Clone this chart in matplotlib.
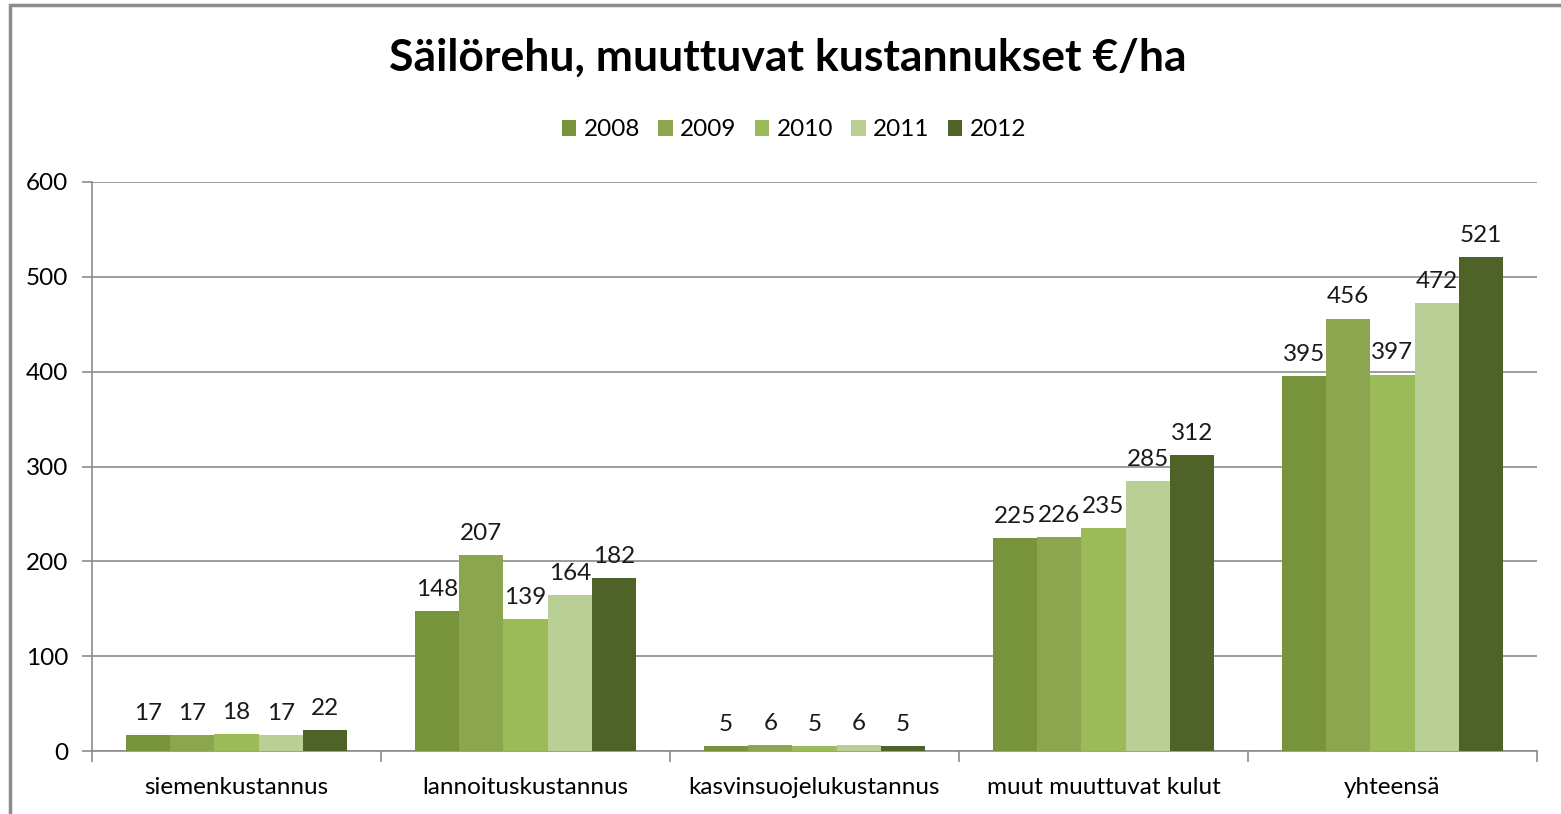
import numpy as np
import matplotlib as mpl
import matplotlib.pyplot as plt
from matplotlib.patches import Rectangle

mpl.rcParams['font.family'] = ['Lato', 'DejaVu Sans']

categories = ['siemenkustannus', 'lannoituskustannus', 'kasvinsuojelukustannus',
              'muut muuttuvat kulut', 'yhteensä']
years = ['2008', '2009', '2010', '2011', '2012']
v2008 = [17, 148, 5, 225, 395]
v2009 = [17, 207, 6, 226, 456]
v2010 = [18, 139, 5, 235, 397]
v2011 = [17, 164, 6, 285, 472]
v2012 = [22, 182, 5, 312, 521]
series = [v2008, v2009, v2010, v2011, v2012]
colors = ['#77933C', '#8BA64E', '#9BBB59', '#BACF96', '#4F6228']

fs = 17.5

fig = plt.figure(figsize=(15.61, 8.14), dpi=100)
fig.patches.append(Rectangle((10 / 1561, -0.01), 1.1, 1 - 5 / 814 + 0.01,
                             transform=fig.transFigure, fill=False,
                             edgecolor='#8c8c8c', linewidth=2.5))

ax = fig.add_axes([92 / 1561, 1 - 751 / 814, (1537 - 92) / 1561, (751 - 182) / 814])

x = np.arange(len(categories))
w = 0.153
for i, (vals, c, yr) in enumerate(zip(series, colors, years)):
    pos = x + (i - 2) * w
    ax.bar(pos, vals, width=w, color=c, label=yr, zorder=3)
    for p, v in zip(pos, vals):
        ax.annotate(str(v), (p, v), xytext=(0, 8), textcoords='offset points',
                    ha='center', va='bottom', fontsize=fs, color='#1a1a1a')

ax.set_xlim(-0.5, len(categories) - 0.5)
ax.set_ylim(0, 600)
ax.set_yticks(range(0, 601, 100))
ax.yaxis.grid(True, color='#8c8c8c', linewidth=1.2, zorder=0)
ax.set_axisbelow(True)

ax.set_xticks(np.arange(-0.5, len(categories), 1))
ax.set_xticklabels([])
ax.set_xticks(x, minor=True)
ax.set_xticklabels(categories, minor=True, fontsize=fs)
ax.tick_params(axis='x', which='major', length=8, color='#8c8c8c', width=1.2)
ax.tick_params(axis='x', which='minor', length=0, pad=19)
ax.tick_params(axis='y', length=7, color='#8c8c8c', width=1.2, labelsize=fs, pad=10)

for s in ['top', 'right']:
    ax.spines[s].set_visible(False)
for s in ['left', 'bottom']:
    ax.spines[s].set_color('#8c8c8c')
    ax.spines[s].set_linewidth(1.2)

fig.text(788 / 1561, 1 - 58 / 814, 'Säilörehu, muuttuvat kustannukset €/ha',
         ha='center', va='center', fontsize=32, fontweight='bold')

fig.legend(loc='center', bbox_to_anchor=(794 / 1561, 1 - 130 / 814), ncol=5,
           frameon=False, fontsize=fs, handlelength=0.6, handleheight=0.6,
           handletextpad=0.3, columnspacing=0.75)

fig.savefig('out.png', dpi=100)
